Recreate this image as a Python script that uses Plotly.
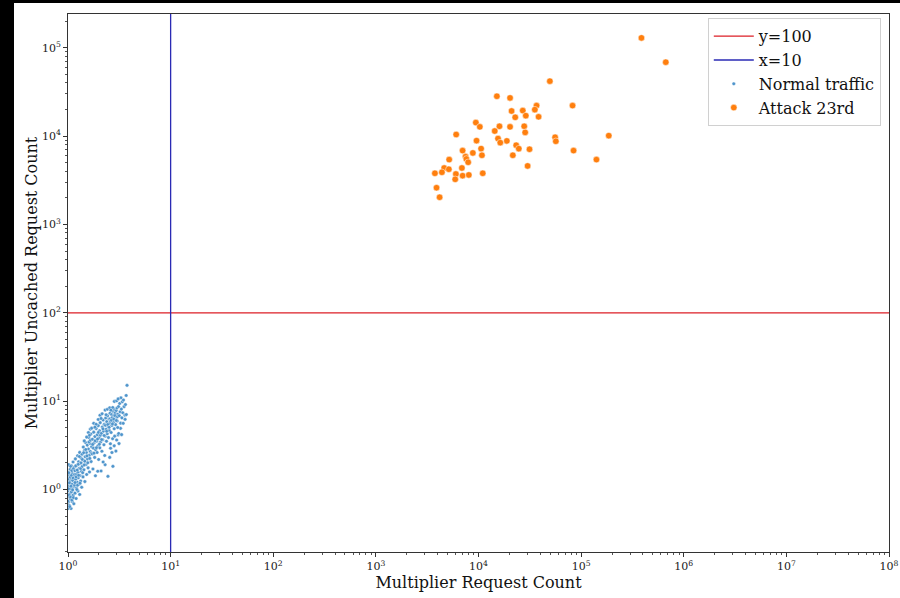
import plotly.graph_objects as go

# Reference thresholds
HLINE_Y = 100
VLINE_X = 10

# Axis extents (log scale)
X_MIN, X_MAX = 1, 1e8
Y_MIN, Y_MAX = 0.196, 2.4e5

X_TICKS = [1, 10, 100, 1e3, 1e4, 1e5, 1e6, 1e7, 1e8]
X_TICK_TEXT = ["10<sup>%d</sup>" % i for i in range(9)]
Y_TICKS = [1, 10, 100, 1e3, 1e4, 1e5]
Y_TICK_TEXT = ["10<sup>%d</sup>" % i for i in range(6)]

# Normal traffic samples (multiplier request count, multiplier uncached request count)
normal_points = [
    (1.00, 0.61), (1.00, 0.83), (1.00, 1.17), (1.00, 1.58), (1.00, 0.97), (1.01, 1.36), (1.01, 0.72),
    (1.02, 1.91), (1.02, 1.08), (1.03, 0.66), (1.03, 1.47), (1.04, 0.89), (1.04, 1.24), (1.05, 1.69),
    (1.05, 0.78), (1.06, 1.02), (1.07, 1.33), (1.07, 0.61), (1.08, 1.86), (1.08, 0.94), (1.09, 1.15),
    (1.10, 0.73), (1.10, 1.52), (1.11, 1.27), (1.12, 0.86), (1.12, 2.05), (1.13, 1.06), (1.14, 1.41),
    (1.14, 0.69), (1.15, 1.79),
    (1.00, 1.31), (1.00, 0.74), (1.01, 1.02), (1.02, 1.55), (1.02, 0.86), (1.03, 1.19), (1.04, 0.64),
    (1.05, 1.38), (1.06, 1.83), (1.06, 0.82), (1.07, 1.09), (1.08, 1.44), (1.09, 0.76), (1.09, 1.64),
    (1.11, 0.99), (1.12, 1.35), (1.13, 1.72), (1.13, 0.81), (1.15, 1.09), (1.16, 1.48),
    (1.16, 1.12), (1.17, 0.91), (1.17, 1.63), (1.18, 2.22), (1.19, 1.31), (1.20, 0.79), (1.21, 1.49),
    (1.21, 1.04), (1.22, 1.88), (1.23, 1.21), (1.24, 2.41), (1.25, 0.96), (1.25, 1.57), (1.26, 1.36),
    (1.27, 2.06), (1.28, 1.15), (1.29, 1.74), (1.30, 0.88), (1.30, 2.63), (1.31, 1.44), (1.32, 1.97),
    (1.33, 1.25), (1.34, 2.28), (1.35, 1.61),
    (1.17, 1.20), (1.19, 1.85), (1.20, 1.39), (1.22, 1.00), (1.23, 1.66), (1.24, 1.12), (1.26, 1.93),
    (1.27, 1.45), (1.29, 2.36), (1.31, 1.18), (1.33, 1.73), (1.34, 2.01),
    (1.36, 1.06), (1.37, 2.51), (1.38, 1.83), (1.40, 1.39), (1.41, 3.02), (1.42, 2.14), (1.43, 1.67),
    (1.45, 2.78), (1.46, 1.23), (1.47, 2.35), (1.48, 3.41), (1.50, 1.92), (1.51, 2.62), (1.52, 1.48),
    (1.54, 3.18), (1.55, 2.21), (1.57, 1.76), (1.58, 2.87), (1.59, 3.88), (1.61, 2.44), (1.62, 1.58),
    (1.64, 3.32), (1.65, 2.69), (1.67, 4.25), (1.68, 2.07), (1.70, 3.05),
    (1.38, 2.19), (1.39, 1.55), (1.42, 2.61), (1.44, 1.90), (1.46, 2.09), (1.49, 2.84), (1.53, 2.40),
    (1.56, 2.01), (1.60, 3.45), (1.63, 2.25), (1.66, 3.62), (1.69, 2.58),
    (1.72, 2.53), (1.73, 3.71), (1.75, 1.71), (1.77, 2.94), (1.78, 4.46), (1.80, 3.38), (1.82, 2.31),
    (1.83, 3.97), (1.85, 1.43), (1.86, 2.82), (1.88, 4.89), (1.90, 3.52), (1.92, 2.62), (1.93, 4.17),
    (1.95, 3.11), (1.97, 5.28), (1.99, 2.19), (2.01, 3.84), (2.03, 4.62), (2.04, 2.96), (2.06, 5.71),
    (2.08, 3.45), (2.10, 1.62),
    (1.74, 3.24), (1.79, 2.58), (1.84, 3.56), (1.89, 2.97), (1.94, 3.73), (1.98, 4.43), (2.02, 3.26),
    (2.07, 4.12),
    (2.12, 4.33), (2.14, 2.71), (2.16, 5.09), (2.18, 3.66), (2.20, 6.12), (2.22, 4.58), (2.24, 3.21),
    (2.26, 5.47), (2.28, 2.43), (2.30, 4.02), (2.33, 6.44), (2.35, 4.81), (2.37, 3.52), (2.39, 5.86),
    (2.41, 4.27), (2.43, 6.83), (2.45, 1.41), (2.46, 5.14), (2.48, 3.87), (2.51, 6.27), (2.53, 4.64),
    (2.55, 5.62), (2.57, 7.31), (2.59, 3.29),
    (2.13, 3.67), (2.19, 4.86), (2.25, 4.08), (2.31, 5.33), (2.38, 4.56), (2.44, 5.44), (2.52, 5.06),
    (2.58, 6.33),
    (2.61, 5.93), (2.63, 4.42), (2.66, 7.04), (2.68, 5.31), (2.70, 6.52), (2.72, 3.76), (2.74, 1.83),
    (2.75, 7.68), (2.77, 5.77), (2.80, 6.91), (2.82, 4.87), (2.84, 8.02), (2.86, 6.21), (2.88, 7.36),
    (2.91, 5.42), (2.93, 2.72), (2.95, 7.83), (2.97, 6.58), (3.00, 8.35), (3.02, 5.96), (3.05, 7.12),
    (3.08, 4.15),
    (2.65, 6.09), (2.71, 5.52), (2.79, 6.27), (2.87, 6.86), (2.96, 6.04), (3.04, 6.66),
    (3.11, 8.71), (3.14, 3.31), (3.16, 6.84), (3.19, 9.42), (3.22, 7.57), (3.26, 5.64), (3.28, 10.9),
    (3.31, 8.13), (3.35, 6.47), (3.38, 9.86), (3.42, 7.39), (3.47, 10.3), (3.52, 8.66), (3.58, 6.95),
    (3.63, 9.14), (3.69, 11.6), (3.76, 15.1),
    # upper-left edge of the band
    (1.44, 3.55), (1.52, 3.92), (1.58, 4.41), (1.65, 4.83), (1.70, 4.95), (1.78, 5.62), (1.88, 5.47),
    (1.97, 6.21), (2.05, 6.93), (2.15, 7.21), (2.30, 7.92), (2.42, 8.09), (2.55, 8.41), (2.73, 8.48),
    (2.83, 9.93), (2.98, 10.1), (3.08, 10.6), (1.62, 4.12), (1.83, 5.08), (2.10, 6.38), (2.35, 7.02),
    (2.62, 7.91),
    # lower-right edge of the band
    (2.30, 1.91), (2.55, 2.31), (2.68, 2.62), (2.82, 3.12), (2.98, 3.63), (3.12, 4.31), (3.25, 4.92),
    (3.33, 4.18), (3.45, 5.61), (3.60, 6.22), (3.70, 7.04), (2.60, 2.93), (2.85, 4.02), (3.05, 5.03),
    (2.20, 2.05), (1.95, 1.61),
]
normal_x = [p[0] for p in normal_points]
normal_y = [p[1] for p in normal_points]

# Attack samples
attack_x = [
    3.87e5, 6.68e5, 4.96e4, 1.51e4, 2.03e4, 2.10e4, 2.70e4, 3.68e4, 3.54e4, 2.28e4, 2.89e4, 3.85e4,
    8.25e4, 9.42e3, 1.03e4, 1.60e4, 2.03e4, 2.79e4, 1.44e4, 2.85e4, 6.06e3, 1.55e4, 1.89e4, 1.63e4,
    9.57e3, 2.33e4, 2.47e4, 3.14e4, 7.00e3, 1.06e4, 8.81e3, 1.08e4, 7.48e3, 2.16e4, 5.18e3, 7.62e3,
    7.93e3, 3.01e4, 4.63e3, 5.14e3, 6.89e3, 3.76e3, 4.40e3, 6.02e3, 1.10e4, 7.00e3, 8.05e3, 5.93e3,
    3.90e3, 4.18e3, 5.58e4, 5.67e4, 1.86e5, 8.44e4, 1.41e5,
]
attack_y = [
    1.29e5, 6.85e4, 4.18e4, 2.82e4, 2.70e4, 1.92e4, 1.94e4, 2.21e4, 1.99e4, 1.63e4, 1.70e4, 1.65e4,
    2.21e4, 1.42e4, 1.27e4, 1.29e4, 1.27e4, 1.29e4, 1.14e4, 1.10e4, 1.04e4, 9.35e3, 8.81e3, 8.42e3,
    8.87e3, 7.87e3, 7.20e3, 7.09e3, 6.84e3, 7.20e3, 6.44e3, 6.06e3, 5.85e3, 6.06e3, 5.41e3, 5.51e3,
    5.05e3, 4.59e3, 4.35e3, 4.21e3, 4.35e3, 3.79e3, 3.89e3, 3.72e3, 3.79e3, 3.56e3, 3.63e3, 3.24e3,
    2.60e3, 2.03e3, 9.69e3, 8.73e3, 1.01e4, 6.84e3, 5.41e3,
]

FONT = "DejaVu Serif"
W, H = 900, 598
ML, MR, MT, MB = 68, 11, 14, 46
PW, PH = W - ML - MR, H - MT - MB

fig = go.Figure()

fig.add_trace(go.Scatter(
    x=[X_MIN, X_MAX], y=[HLINE_Y, HLINE_Y], mode="lines", name="y=100",
    line=dict(color="#dc1e26", width=1.2),
))
fig.add_trace(go.Scatter(
    x=[VLINE_X, VLINE_X], y=[Y_MIN, Y_MAX], mode="lines", name="x=10",
    line=dict(color="#2a2ab4", width=1.3),
))
fig.add_trace(go.Scatter(
    x=normal_x, y=normal_y, mode="markers", name="Normal traffic",
    marker=dict(color="#4f95cc", size=3.6, line=dict(color="white", width=0.4)),
))
fig.add_trace(go.Scatter(
    x=attack_x, y=attack_y, mode="markers", name="Attack 23rd",
    marker=dict(color="#ff7f0e", size=6.5, line=dict(color="white", width=0.5)),
))


def px_to_paper_x(px):
    return (px - ML) / PW


def px_to_paper_y(py):
    return (H - MB - py) / PH


# dark frame along the left and top edges of the canvas
fig.add_shape(type="rect", xref="paper", yref="paper",
              x0=px_to_paper_x(0), x1=px_to_paper_x(14),
              y0=px_to_paper_y(H), y1=px_to_paper_y(0),
              fillcolor="black", line=dict(width=0), layer="above")
fig.add_shape(type="rect", xref="paper", yref="paper",
              x0=px_to_paper_x(0), x1=px_to_paper_x(W),
              y0=px_to_paper_y(3), y1=px_to_paper_y(0),
              fillcolor="black", line=dict(width=0), layer="above")

axis_common = dict(
    type="log", showgrid=False, zeroline=False,
    showline=True, linecolor="#333333", linewidth=1, mirror=True,
    ticks="outside", ticklen=4, tickcolor="#333333", tickwidth=1,
    tickfont=dict(family=FONT, size=11, color="#222222"),
    automargin=False,
    minor=dict(ticks="outside", ticklen=2, tickcolor="#555555", dtick="D1", showgrid=False),
)

fig.update_layout(
    width=W, height=H,
    margin=dict(l=ML, r=MR, t=MT, b=MB, pad=0),
    paper_bgcolor="white", plot_bgcolor="white",
    font=dict(family=FONT, color="#111111"),
    showlegend=True,
    legend=dict(
        x=0.990, y=0.992, xanchor="right", yanchor="top",
        bgcolor="rgba(255,255,255,0.9)", bordercolor="#d0d0d0", borderwidth=1,
        font=dict(family=FONT, size=16, color="#111111"),
        itemwidth=40,
    ),
    xaxis=dict(
        axis_common,
        range=[0, 8], tickmode="array", tickvals=X_TICKS, ticktext=X_TICK_TEXT,
        title=dict(text="Multiplier Request Count", font=dict(family=FONT, size=16), standoff=4),
    ),
    yaxis=dict(
        axis_common,
        range=[-0.707, 5.381], tickmode="array", tickvals=Y_TICKS, ticktext=Y_TICK_TEXT,
        title=dict(text="Multiplier Uncached Request Count", font=dict(family=FONT, size=16), standoff=0),
    ),
)

fig.write_html("out.html")
